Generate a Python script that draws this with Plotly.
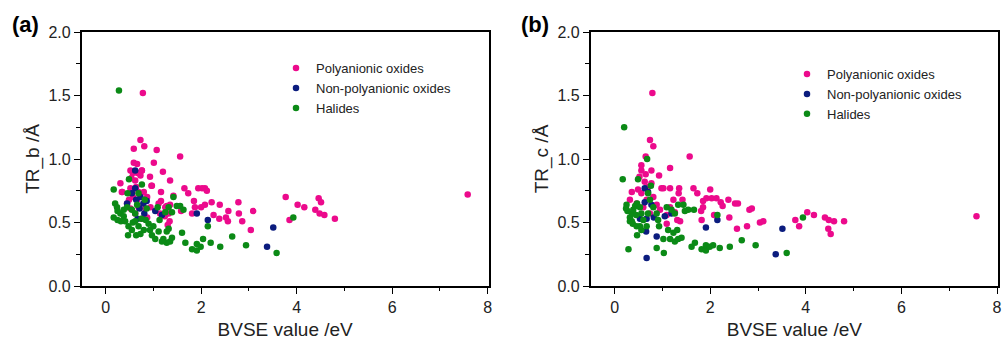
import plotly.graph_objects as go

# ---------------- Data: panel (a) TR_b ----------------
a_poly_x = [0.78, 0.73, 0.81, 0.59, 1.07, 1.56, 1.01, 0.66, 1.20, 0.76, 0.93, 1.35, 0.31, 0.97, 1.65, 1.94,
            2.08, 2.12, 2.02, 1.73, 1.16, 0.34, 1.42, 3.77, 4.46, 7.58, 4.51, 4.02, 4.16, 4.39, 4.48, 4.58,
            4.80, 3.85, 2.78, 2.39, 2.22, 1.85, 1.87, 2.00, 2.08, 2.57, 3.09, 2.79, 1.81, 2.26, 2.38, 2.52,
            2.56, 2.86, 3.04, 1.58, 1.16, 1.28, 1.32, 1.34, 1.30, 1.24,
            0.35, 0.52, 0.57, 0.62, 0.54, 0.67, 0.76, 0.73, 0.64, 0.52, 0.57, 0.49, 0.87, 0.83, 0.66, 0.94,
            0.52, 0.62, 0.76, 0.87, 1.14, 0.96, 0.69, 0.80, 0.83, 0.69, 1.11, 0.59, 1.25, 1.35, 0.45, 0.55]
a_poly_y = [1.52, 1.15, 1.10, 1.08, 1.07, 1.02, 0.97, 0.96, 0.90, 0.91, 0.86, 0.83, 0.81, 0.79, 0.77, 0.77,
            0.77, 0.75, 0.77, 0.73, 0.74, 0.74, 0.71, 0.70, 0.69, 0.72, 0.66, 0.64, 0.62, 0.60, 0.57, 0.56,
            0.53, 0.52, 0.66, 0.64, 0.66, 0.67, 0.62, 0.62, 0.64, 0.59, 0.59, 0.57, 0.57, 0.56, 0.53, 0.54,
            0.51, 0.51, 0.44, 0.59, 0.67, 0.63, 0.57, 0.51, 0.48, 0.55,
            0.74, 0.91, 0.89, 0.83, 0.85, 0.89, 0.91, 0.87, 0.78, 0.77, 0.70, 0.68, 0.70, 0.68, 0.68, 0.62,
            0.61, 0.57, 0.53, 0.54, 0.57, 0.79, 0.74, 0.74, 0.61, 0.62, 0.65, 0.97, 0.62, 0.64, 0.65, 0.74]

a_nonpoly_x = [0.62, 0.62, 0.55, 0.64, 0.73, 0.79, 0.86, 0.71, 0.81, 1.04, 1.18, 1.91, 2.14, 3.38, 3.51, 0.67, 0.45]
a_nonpoly_y = [0.91, 0.77, 0.73, 0.68, 0.70, 0.65, 0.67, 0.61, 0.57, 0.59, 0.56, 0.57, 0.52, 0.31, 0.46, 0.53, 0.65]

a_hal_x = [0.28, 0.17, 0.49, 0.76, 0.46, 0.69, 0.20, 0.24, 0.25, 0.31, 0.38, 0.45, 0.55, 0.62, 0.38, 0.32,
           0.41, 0.48, 0.55, 0.47, 0.64, 0.69, 0.62, 0.75, 0.84, 0.86, 0.93, 1.00, 1.04, 1.11, 1.13, 1.09,
           1.25, 1.32, 1.42, 1.49, 1.39, 1.63, 1.56, 1.28, 1.32, 1.21, 1.28, 1.35, 1.39, 1.18, 1.60, 1.67,
           1.81, 1.91, 1.91, 1.99, 2.04, 2.20, 2.14, 2.40, 2.65, 2.94, 3.58, 3.93, 0.82, 0.66, 0.17, 0.25,
           0.80, 0.90, 0.97, 0.73, 0.57]
a_hal_y = [1.54, 0.76, 0.84, 0.80, 0.73, 0.73, 0.65, 0.62, 0.59, 0.57, 0.60, 0.62, 0.60, 0.57, 0.55, 0.51,
           0.51, 0.47, 0.44, 0.40, 0.40, 0.47, 0.51, 0.53, 0.52, 0.61, 0.44, 0.47, 0.37, 0.43, 0.52, 0.62,
           0.58, 0.62, 0.70, 0.63, 0.58, 0.60, 0.63, 0.43, 0.45, 0.37, 0.34, 0.35, 0.38, 0.35, 0.42, 0.34,
           0.29, 0.28, 0.33, 0.31, 0.37, 0.34, 0.47, 0.31, 0.39, 0.32, 0.26, 0.54, 0.68, 0.64, 0.54, 0.52,
           0.44, 0.49, 0.40, 0.41, 0.50]

# ---------------- Data: panel (b) TR_c ----------------
b_poly_x = [0.79, 0.74, 0.81, 1.57, 0.65, 0.56, 1.16, 0.56, 0.77, 0.93, 0.65, 0.52, 0.98, 1.02, 1.16, 1.35,
            1.34, 1.65, 1.73, 2.00, 0.36, 0.49, 0.32, 1.23, 1.42, 1.85, 1.92, 2.03, 2.13, 2.22, 2.26, 2.38,
            2.52, 2.58, 1.81, 1.85, 2.08, 2.40, 1.82, 2.56, 2.77, 2.82, 2.87, 3.04, 3.11, 3.78, 3.86, 4.03,
            4.17, 4.40, 4.48, 4.59, 4.80, 4.47, 4.52, 7.57, 1.09, 1.16, 1.26, 1.31, 1.37, 0.74, 0.81, 0.67,
            0.60, 0.56, 0.70, 0.46, 0.88, 0.95, 1.09, 0.77, 0.63]
b_poly_y = [1.52, 1.15, 1.10, 1.02, 1.02, 0.95, 0.93, 0.91, 0.91, 0.87, 0.88, 0.86, 0.77, 0.77, 0.77, 0.77,
            0.73, 0.77, 0.73, 0.76, 0.74, 0.76, 0.68, 0.68, 0.68, 0.67, 0.69, 0.69, 0.69, 0.66, 0.63, 0.68,
            0.65, 0.65, 0.59, 0.62, 0.56, 0.54, 0.52, 0.45, 0.47, 0.60, 0.61, 0.50, 0.51, 0.52, 0.47, 0.58,
            0.56, 0.54, 0.52, 0.51, 0.51, 0.45, 0.41, 0.55, 0.56, 0.62, 0.58, 0.52, 0.51, 0.57, 0.70, 0.68,
            0.62, 0.73, 0.78, 0.65, 0.64, 0.60, 0.49, 0.81, 0.82]

b_nonpoly_x = [0.63, 0.70, 0.63, 0.77, 0.67, 0.53, 0.66, 0.88, 0.67, 1.05, 1.19, 1.91, 2.15, 3.37, 3.51, 0.82]
b_nonpoly_y = [0.77, 0.74, 0.66, 0.64, 0.53, 0.53, 0.43, 0.39, 0.22, 0.55, 0.57, 0.46, 0.52, 0.25, 0.45, 0.54]

b_hal_x = [0.20, 0.17, 0.49, 0.68, 0.76, 0.70, 0.29, 0.25, 0.24, 0.27, 0.32, 0.36, 0.39, 0.43, 0.47, 0.53,
           0.56, 0.45, 0.32, 0.38, 0.46, 0.47, 0.56, 0.67, 0.60, 0.70, 0.81, 0.88, 0.91, 0.93, 0.88, 1.03,
           1.02, 1.12, 1.09, 1.19, 1.26, 1.23, 1.31, 1.16, 1.26, 1.33, 1.40, 1.33, 1.44, 1.47, 1.54, 1.66,
           1.61, 1.68, 1.82, 1.91, 1.91, 1.99, 2.06, 2.20, 2.15, 2.41, 2.66, 2.95, 3.60, 3.94, 0.53, 0.74,
           0.36]
b_hal_y = [1.25, 0.84, 0.84, 1.00, 0.79, 0.73, 0.29, 0.64, 0.61, 0.59, 0.54, 0.57, 0.60, 0.63, 0.65, 0.62,
           0.57, 0.56, 0.51, 0.49, 0.47, 0.40, 0.44, 0.47, 0.52, 0.57, 0.62, 0.57, 0.52, 0.47, 0.30, 0.26,
           0.37, 0.44, 0.62, 0.60, 0.57, 0.42, 0.44, 0.37, 0.35, 0.37, 0.38, 0.64, 0.64, 0.59, 0.60, 0.60,
           0.31, 0.34, 0.29, 0.28, 0.32, 0.31, 0.32, 0.30, 0.56, 0.31, 0.36, 0.32, 0.26, 0.54, 0.47, 0.68,
           0.51]

series_names = ["Polyanionic oxides", "Non-polyanionic oxides", "Halides"]
series_colors = ["#EC0A8C", "#0B1C7E", "#0B8A16"]
x_ticks = [0, 2, 4, 6, 8]
y_ticks = [0.0, 0.5, 1.0, 1.5, 2.0]
y_titles = ["TR_b /Å", "TR_c /Å"]
panel_labels = ["(a)", "(b)"]

FONT = "Liberation Sans, Arial, sans-serif"

fig = go.Figure()

panels = [
    ([a_poly_x, a_nonpoly_x, a_hal_x], [a_poly_y, a_nonpoly_y, a_hal_y], "x", "y", "legend"),
    ([b_poly_x, b_nonpoly_x, b_hal_x], [b_poly_y, b_nonpoly_y, b_hal_y], "x2", "y2", "legend2"),
]
for xs, ys, xa, ya, lg in panels:
    for name, color, xv, yv in zip(series_names, series_colors, xs, ys):
        fig.add_trace(go.Scatter(
            x=xv, y=yv, mode="markers", name=name, xaxis=xa, yaxis=ya, legend=lg,
            marker=dict(color=color, size=6.5, line=dict(width=0)),
        ))

W, H = 1006, 340
M_T, M_B = 32.3, 54.3
PH = H - M_T - M_B
dom_a = [81.7 / W, 488.7 / W]
dom_b = [590.7 / W, 998.0 / W]


def py(pix):
    """paper y for a pixel row measured from the top of the figure"""
    return 1 - (pix - M_T) / PH


def xaxis(domain, anchor):
    return dict(
        domain=domain, anchor=anchor, range=[-0.5, 8.02], automargin=False,
        tickvals=x_ticks, ticktext=[str(v) for v in x_ticks],
        showgrid=False, zeroline=False,
        showline=True, linecolor="black", linewidth=1.6, mirror=True,
        ticks="outside", ticklen=6, tickwidth=1.3, tickcolor="black",
        minor=dict(dtick=1, tick0=0, ticks="outside", ticklen=3.5, tickwidth=1.2, tickcolor="black"),
        tickfont=dict(family=FONT, size=16, color="#222"),
        title=dict(text="BVSE value /eV", font=dict(family=FONT, size=19, color="#222"), standoff=8),
    )


def yaxis(anchor, title):
    return dict(
        domain=[0, 1], anchor=anchor, range=[0, 2.0], automargin=False,
        tickvals=y_ticks, ticktext=[f"{v:.1f}" for v in y_ticks],
        showgrid=False, zeroline=False,
        showline=True, linecolor="black", linewidth=1.6, mirror=True,
        ticks="outside", ticklen=6, tickwidth=1.3, tickcolor="black",
        minor=dict(dtick=0.25, tick0=0, ticks="outside", ticklen=3.5, tickwidth=1.2, tickcolor="black"),
        tickfont=dict(family=FONT, size=16, color="#222"),
        title=dict(text=title, font=dict(family=FONT, size=19, color="#222"), standoff=4),
    )


legend_style = dict(
    font=dict(family=FONT, size=13, color="#222"),
    bgcolor="rgba(0,0,0,0)", borderwidth=0,
    xanchor="left", yanchor="top", tracegroupgap=0, itemsizing="trace",
)

fig.update_layout(
    width=W, height=H, margin=dict(l=0, r=0, t=M_T, b=M_B, autoexpand=False),
    paper_bgcolor="white", plot_bgcolor="white",
    showlegend=True,
    xaxis=xaxis(dom_a, "y"),
    yaxis=yaxis("x", y_titles[0]),
    xaxis2=xaxis(dom_b, "y2"),
    yaxis2=yaxis("x2", y_titles[1]),
    legend=dict(x=276 / W, y=py(53.4), **legend_style),
    legend2=dict(x=787 / W, y=py(59.3), **legend_style),
    annotations=[
        dict(text="<b>" + panel_labels[0] + "</b>", x=25 / W, y=py(25), xref="paper", yref="paper",
             showarrow=False, xanchor="center", yanchor="middle",
             font=dict(family=FONT, size=22, color="black")),
        dict(text="<b>" + panel_labels[1] + "</b>", x=535 / W, y=py(25), xref="paper", yref="paper",
             showarrow=False, xanchor="center", yanchor="middle",
             font=dict(family=FONT, size=22, color="black")),
    ],
)

fig.write_html("out.html")
